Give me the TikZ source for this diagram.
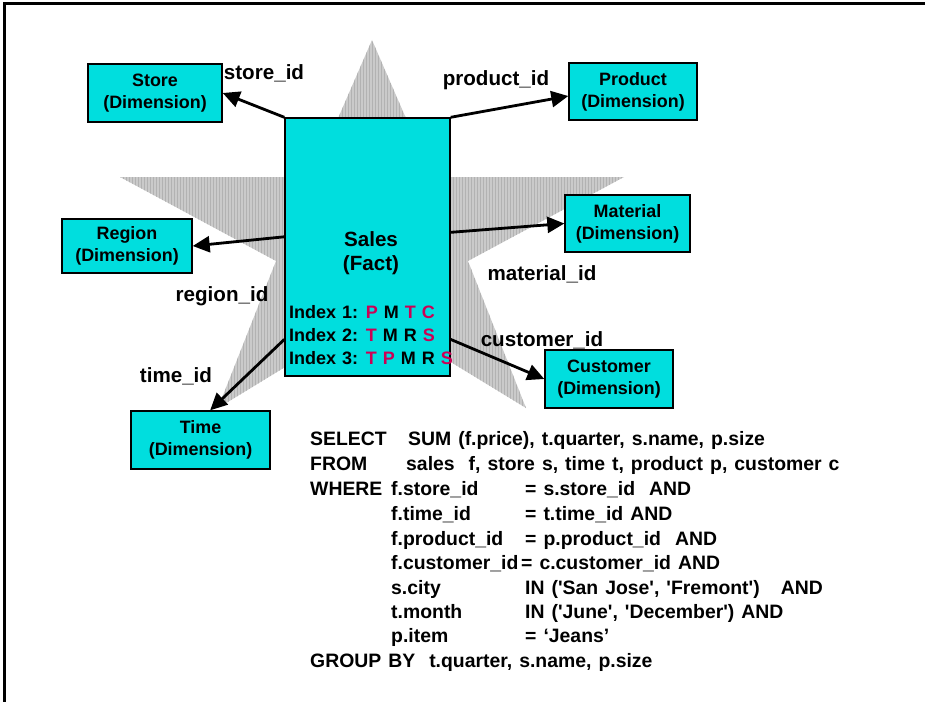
\documentclass[tikz,border=0pt]{standalone}
\usepackage{fontspec}
\setmainfont{Liberation Sans}[Ligatures=TeXOff]
\usetikzlibrary{arrows.meta,patterns}

\definecolor{dimcyan}{RGB}{0,222,222}
\definecolor{idxred}{RGB}{204,0,85}
\definecolor{stargray}{RGB}{202,202,202}
\definecolor{starline}{RGB}{178,178,178}

% wider word spacing for the query and index lines
\newcommand{\sqlspacing}{\spaceskip=7pt\relax}
\newcommand{\idxspacing}{\spaceskip=6pt\relax}

\tikzset{
  frameline/.style={line width=3pt, line cap=rect},
  dimbox/.style={draw=black, line width=1.4pt, fill=dimcyan, align=center,
    inner sep=0pt, minimum width=130pt, minimum height=57pt,
    font=\fontsize{17.9}{22}\selectfont\bfseries},
  factbox/.style={draw=black, line width=1.4pt, fill=dimcyan, inner sep=0pt},
  keylabel/.style={font=\fontsize{20.6}{24}\selectfont\bfseries, inner sep=0pt},
  facttext/.style={font=\fontsize{20.6}{24}\selectfont\bfseries, align=center, inner sep=0pt},
  idxtext/.style={font=\fontsize{18}{22}\selectfont\bfseries\idxspacing, anchor=west, inner sep=0pt},
  sqltext/.style={font=\fontsize{19.4}{24}\selectfont\bfseries\sqlspacing,
    anchor=base west, inner sep=0pt},
  link/.style={draw=black, line width=2.8pt, -{Triangle[length=17pt,width=16pt]}},
}

\begin{document}
\begin{tikzpicture}[x=1pt,y=-1pt]
  \useasboundingbox (0,0) rectangle (925,701);

  % frame: top and left edges only
  \draw[frameline] (4,701) -- (4,4) -- (925,4);

  % background star
  \fill[stargray] (372,40) -- (431.5,177) -- (624,177) -- (468,261) -- (526,408)
     -- (372,314) -- (218,408) -- (276,261) -- (120,177) -- (312.5,177) -- cycle;
  \fill[pattern=vertical lines, pattern color=starline]
     (372,40) -- (431.5,177) -- (624,177) -- (468,261) -- (526,408)
     -- (372,314) -- (218,408) -- (276,261) -- (120,177) -- (312.5,177) -- cycle;

  % fact table
  \node[factbox, minimum width=165pt, minimum height=258pt] (sales) at (367.5,247) {};
  \node[facttext] (salesname) at (371,253) {Sales\\(Fact)};
  \node[idxtext] (idx1) at (289,312) {Index 1: \textcolor{idxred}{P} M \textcolor{idxred}{T} \textcolor{idxred}{C}};
  \node[idxtext] (idx2) at (289,335) {Index 2: \textcolor{idxred}{T} M R \textcolor{idxred}{S}};
  \node[idxtext] (idx3) at (289,358) {Index 3: \textcolor{idxred}{T} \textcolor{idxred}{P} M R \textcolor{idxred}{S}};

  % dimension tables
  \node[dimbox, minimum width=134pt, minimum height=58pt] (store) at (155,93) {Store\\(Dimension)};
  \node[dimbox, minimum width=128pt] (product) at (633,91.5) {Product\\(Dimension)};
  \node[dimbox, minimum height=54pt] (region) at (127,246) {Region\\(Dimension)};
  \node[dimbox, minimum width=125pt] (material) at (627.5,223.5) {Material\\(Dimension)};
  \node[dimbox, minimum width=128pt, minimum height=58pt] (customer) at (609,379) {Customer\\(Dimension)};
  \node[dimbox, minimum width=139pt, minimum height=58pt] (time) at (200.5,440) {Time\\(Dimension)};

  % foreign-key links
  \draw[link] (sales.north west) -- (store.east);
  \draw[link] (sales.north east) -- (product.184);
  \draw[link] (sales.10) -- (material.west);
  \draw[link] (sales.173) -- (region.east);
  \draw[link] (sales.-48) -- (customer.west);
  \draw[link] (sales.228) -- (time.72);

  % key labels
  \node[keylabel] (lstore) at (264,73) {store\_id};
  \node[keylabel] (lproduct) at (496,80) {product\_id};
  \node[keylabel] (lmaterial) at (542,274) {material\_id};
  \node[keylabel] (lregion) at (222,296) {region\_id};
  \node[keylabel] (lcustomer) at (542,340) {customer\_id};
  \node[keylabel] (ltime) at (176,376) {time\_id};

  % star-join query
  \node[sqltext] (q1a) at (310,445) {SELECT};
  \node[sqltext] (q1b) at (408,445) {SUM (f.price), t.quarter, s.name, p.size};
  \node[sqltext] (q2a) at (310,470) {FROM};
  \node[sqltext] (q2b) at (406,470) {sales\ \ f, store s, time t, product p, customer c};
  \node[sqltext] (q3a) at (310,495) {WHERE};
  \node[sqltext] (q3b) at (391,495) {f.store\_id};
  \node[sqltext] (q3c) at (525,495) {= s.store\_id\ \ AND};
  \node[sqltext] (q4b) at (391,520) {f.time\_id};
  \node[sqltext] (q4c) at (525,520) {= t.time\_id AND};
  \node[sqltext] (q5b) at (391,545) {f.product\_id};
  \node[sqltext] (q5c) at (525,545) {= p.product\_id\ \ AND};
  \node[sqltext] (q6b) at (391,569) {f.customer\_id};
  \node[sqltext] (q6c) at (521,569) {= c.customer\_id AND};
  \node[sqltext] (q7b) at (391,594) {s.city};
  \node[sqltext] (q7c) at (525,594) {IN ('San Jose', 'Fremont')\ \ \ AND};
  \node[sqltext] (q8b) at (391,618) {t.month};
  \node[sqltext] (q8c) at (525,618) {IN ('June', 'December') AND};
  \node[sqltext] (q9b) at (391,642) {p.item};
  \node[sqltext] (q9c) at (525,642) {= ‘Jeans’};
  \node[sqltext] (q10a) at (310,667) {GROUP BY\ \ t.quarter, s.name, p.size};
\end{tikzpicture}
\end{document}
